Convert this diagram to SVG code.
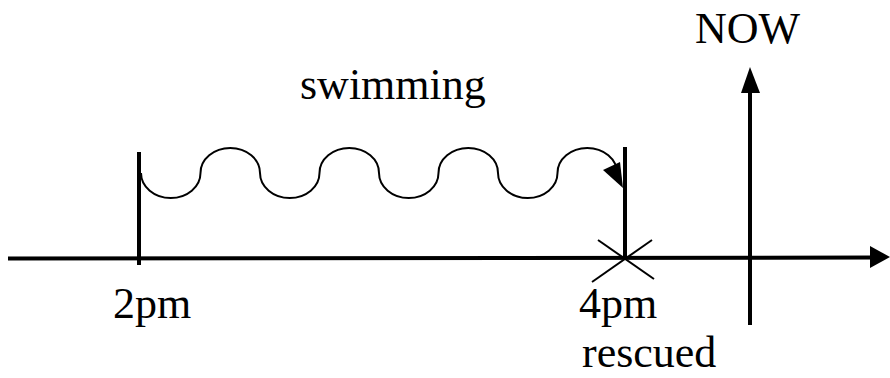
<svg xmlns="http://www.w3.org/2000/svg" width="890" height="378" viewBox="0 0 890 378">
<style>
.lbl { font-family: "Liberation Serif", "Times New Roman", serif; font-size: 44px; fill: #000; }
.thick { stroke: #000; stroke-width: 4; fill: none; }
.thin { stroke: #000; stroke-width: 2; fill: none; }
.head { fill: #000; stroke: none; }
</style>
<rect width="890" height="378" fill="#fff"/>
<g id="connectors">
  <line class="thick" x1="8" y1="258.5" x2="874" y2="257.5"/>
  <polygon class="head" points="870,246 890,257 870,268"/>
  <path class="thin" d="M141,173 A29.75,25 0 0 0 200.5,173 A29.75,25 0 0 1 260,173 A29.75,25 0 0 0 319.5,173 A29.75,25 0 0 1 379,173 A29.75,25 0 0 0 438.5,173 A29.75,25 0 0 1 498,173 A29.75,25 0 0 0 557.5,173 A29.75,25 0 0 1 617,173 L620,180"/>
  <polygon class="head" points="603,170 620,162 623,188"/>
</g>
<g id="t2pm">
  <line class="thick" x1="139" y1="152" x2="139" y2="265"/>
  <text class="lbl" x="113" y="318">2pm</text>
</g>
<g id="t4pm">
  <line class="thick" x1="625" y1="147" x2="625" y2="258"/>
  <line class="thin" x1="592" y1="282" x2="652" y2="240"/>
  <line class="thin" x1="598" y1="240" x2="654" y2="279"/>
  <text class="lbl" x="579" y="318">4pm</text>
  <text class="lbl" x="582" y="367">rescued</text>
</g>
<g id="now">
  <line class="thick" x1="750" y1="90" x2="750" y2="325"/>
  <polygon class="head" points="741,93 750,67 760,93"/>
  <text class="lbl" x="695" y="43">NOW</text>
</g>
<g id="swimming">
  <text class="lbl" x="300" y="99">swimming</text>
</g>
</svg>
